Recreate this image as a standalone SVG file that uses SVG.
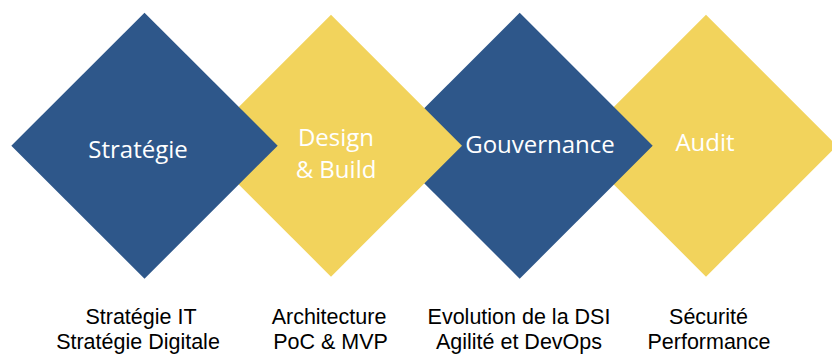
<svg xmlns="http://www.w3.org/2000/svg" width="832" height="356" viewBox="0 0 832 356">
<style>
.blue{fill:#2E578A}
.yellow{fill:#F2D35C}
.lbl{font-family:"Open Sans","Liberation Sans",sans-serif;font-size:24px;fill:#FFFFFF;text-anchor:middle}
.cap{font-family:"Liberation Sans",Arial,sans-serif;font-size:21.5px;fill:#000000;text-anchor:middle}
</style>
<rect width="832" height="356" fill="#FFFFFF"/>
<g id="audit">
<polygon class="yellow" points="706,14.7 837,145.7 706,276.7 575,145.7"/>
<text class="lbl" x="705" y="150.7">Audit</text>
</g>
<g id="gouvernance">
<polygon class="blue" points="519.7,12.7 652.7,145.7 519.7,278.7 386.7,145.7"/>
<text class="lbl" x="540" y="153.3">Gouvernance</text>
</g>
<g id="design-build">
<polygon class="yellow" points="331,14.7 462,145.7 331,276.7 200,145.7"/>
<text class="lbl" x="336" y="145.7">Design</text>
<text class="lbl" x="336" y="178">&amp; Build</text>
</g>
<g id="strategie">
<polygon class="blue" points="144.5,12.7 277.7,145.7 144.5,278.7 11.3,145.7"/>
<text class="lbl" x="138" y="157.7">Stratégie</text>
</g>
<g id="captions">
<text class="cap" x="141" y="324.3">Stratégie IT</text>
<text class="cap" x="138" y="349.3">Stratégie Digitale</text>
<text class="cap" x="329" y="324.3">Architecture</text>
<text class="cap" x="330.5" y="349.3">PoC &amp; MVP</text>
<text class="cap" x="519" y="324.3">Evolution de la DSI</text>
<text class="cap" x="519" y="349.3">Agilité et DevOps</text>
<text class="cap" x="708.5" y="324.3">Sécurité</text>
<text class="cap" x="709" y="349.3">Performance</text>
</g>
<g id="connectors"/>
</svg>
